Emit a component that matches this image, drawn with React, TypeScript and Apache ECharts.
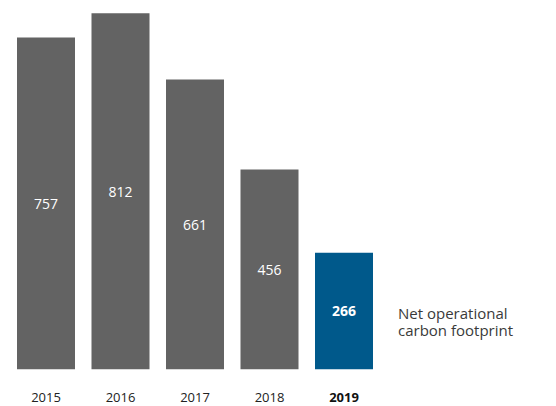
import React, { useEffect, useRef } from "react";
import * as echarts from "echarts";

const categories = ["2015", "2016", "2017", "2018", "2019"];
const values = [757, 812, 661, 456, 266];
const highlightIndex = 4;
const legendLines = ["Net operational", "carbon footprint"];

const GRAY = "#636363";
const BLUE = "#00598b";
const FONT = "'Open Sans', 'Noto Sans', sans-serif";

export default function App() {
  const ref = useRef<HTMLDivElement>(null);
  useEffect(() => {
    if (!ref.current) return;
    const chart = echarts.init(ref.current, undefined, { renderer: "svg" });
    chart.setOption({
      animation: false,
      backgroundColor: "#ffffff",
      grid: { left: 8.75, right: 174.75, top: 13.3, bottom: 36.7, containLabel: false },
      xAxis: {
        type: "category",
        data: categories,
        axisLine: { show: false },
        axisTick: { show: false },
        axisLabel: {
          margin: 21,
          fontFamily: FONT,
          fontSize: 13,
          color: "#222222",
          formatter: (v: string) => (v === categories[highlightIndex] ? `{b|${v}}` : v),
          rich: { b: { fontWeight: "bold", fontFamily: FONT, fontSize: 13, color: "#111111" } },
        },
      },
      yAxis: {
        type: "value",
        min: 0,
        max: 812,
        show: false,
        splitLine: { show: false },
      },
      series: [
        {
          type: "bar",
          barWidth: 58,
          data: values.map((v, i) => ({
            value: v,
            itemStyle: { color: i === highlightIndex ? BLUE : GRAY },
            label: i === highlightIndex ? { fontWeight: "bold" } : undefined,
          })),
          label: {
            show: true,
            position: "inside",
            color: "#ffffff",
            fontFamily: FONT,
            fontSize: 14,
          },
        },
      ],
      graphic: legendLines.map((line, i) => ({
        type: "text",
        x: 398,
        y: 313 + i * 17,
        style: {
          text: line,
          fontFamily: FONT,
          fontSize: 15,
          lineHeight: 14,
          verticalAlign: "middle",
          fill: "#3a3a3a",
        },
      })),
    });
    return () => chart.dispose();
  }, []);
  return <div ref={ref} style={{ width: 556, height: 406, position: "absolute", left: 0, top: 0 }} />;
}
